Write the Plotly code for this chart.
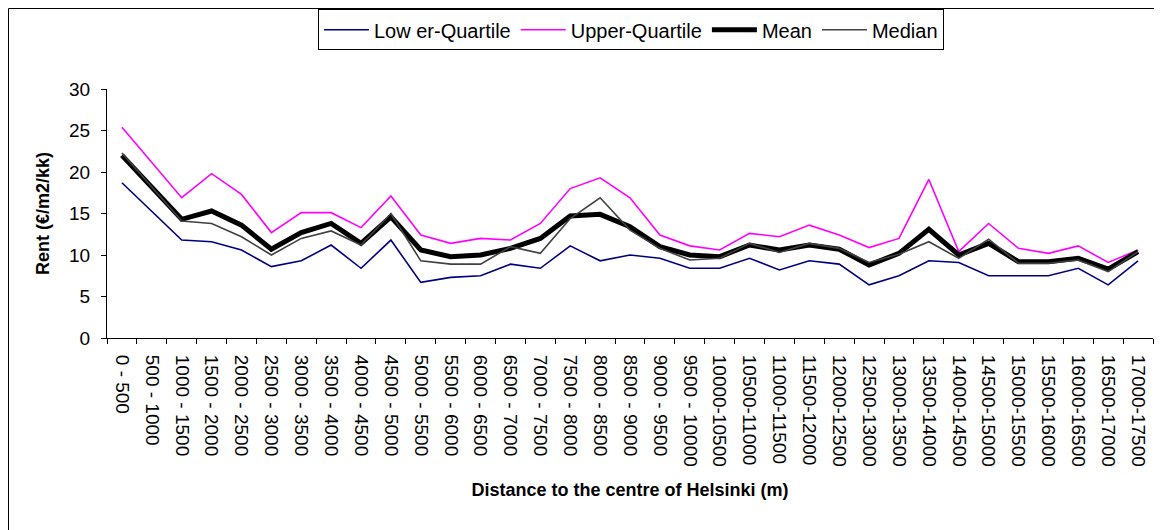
import plotly.graph_objects as go

# distance bands (m)
bands = ['0 - 500', '500 - 1000', '1000 - 1500', '1500 - 2000', '2000 - 2500',
         '2500 - 3000', '3000 - 3500', '3500 - 4000', '4000 - 4500', '4500 - 5000',
         '5000 - 5500', '5500 - 6000', '6000 - 6500', '6500 - 7000', '7000 - 7500',
         '7500 - 8000', '8000 - 8500', '8500 - 9000', '9000 - 9500', '9500 - 10000',
         '10000-10500', '10500-11000', '11000-11500', '11500-12000', '12000-12500',
         '12500-13000', '13000-13500', '13500-14000', '14000-14500', '14500-15000',
         '15000-15500', '15500-16000', '16000-16500', '16500-17000', '17000-17500']

lower_q = [18.7, 15.2, 11.8, 11.6, 10.6, 8.6, 9.3, 11.2, 8.4, 11.8,
           6.7, 7.3, 7.5, 8.9, 8.4, 11.1, 9.3, 10.0, 9.6, 8.4,
           8.4, 9.6, 8.2, 9.3, 8.9, 6.4, 7.5, 9.3, 9.1, 7.5,
           7.5, 7.5, 8.4, 6.4, 9.3]
upper_q = [25.4, 21.2, 16.9, 19.8, 17.3, 12.7, 15.1, 15.1, 13.3, 17.1,
           12.4, 11.4, 12.0, 11.8, 13.8, 18.0, 19.3, 16.9, 12.4, 11.1,
           10.6, 12.6, 12.2, 13.6, 12.4, 10.9, 12.0, 19.1, 10.4, 13.8,
           10.8, 10.2, 11.1, 9.1, 10.6]
mean = [22.0, 18.2, 14.3, 15.3, 13.6, 10.7, 12.7, 13.8, 11.4, 14.6,
        10.6, 9.8, 10.0, 10.8, 12.0, 14.7, 14.9, 13.4, 11.0, 10.0,
        9.8, 11.2, 10.6, 11.2, 10.7, 8.8, 10.2, 13.1, 10.0, 11.4,
        9.2, 9.2, 9.6, 8.3, 10.4]
median = [22.3, 18.2, 14.1, 13.8, 12.2, 10.0, 12.0, 12.9, 11.2, 15.0,
          9.3, 8.9, 8.9, 11.0, 10.2, 14.4, 16.9, 13.0, 10.8, 9.4,
          9.6, 11.4, 10.3, 11.4, 10.8, 9.1, 10.1, 11.6, 9.6, 11.9,
          9.0, 9.0, 9.4, 8.0, 10.4]

FONT = 'Arial, Liberation Sans, sans-serif'

# plot area in figure pixels
L, T, R, B = 99, 81, 17, 200
W, H = 1162, 530
PW, PH = W - L - R, H - T - B


def py(ypix):
    # figure pixel (from top) -> paper y
    return (T + PH - ypix) / PH


fig = go.Figure()
fig.add_trace(go.Scatter(x=bands, y=lower_q, mode='lines', name='Low er-Quartile',
                         line=dict(color='#000080', width=1.6)))
fig.add_trace(go.Scatter(x=bands, y=upper_q, mode='lines', name='Upper-Quartile',
                         line=dict(color='#FF00FF', width=1.6)))
fig.add_trace(go.Scatter(x=bands, y=mean, mode='lines', name='Mean',
                         line=dict(color='#000000', width=5)))
fig.add_trace(go.Scatter(x=bands, y=median, mode='lines', name='Median',
                         line=dict(color='#404040', width=1.6)))

fig.update_layout(
    width=W, height=H,
    margin=dict(l=L, r=R, t=T, b=B),
    paper_bgcolor='white', plot_bgcolor='white',
    font=dict(family=FONT, color='black', size=18),
    showlegend=True,
    legend=dict(orientation='h', xref='container', yref='container',
                x=623 / W, xanchor='center', y=1 - 1.3 / H, yanchor='top',
                bordercolor='black', borderwidth=1, font=dict(size=20),
                tracegroupgap=0, itemwidth=45),
    xaxis=dict(type='category', range=[-0.5, 34.5], tickangle=90,
               ticks='outside', ticklen=5, tickson='boundaries', tickcolor='black',
               showline=True, linecolor='black', linewidth=1, showgrid=False,
               tickfont=dict(size=19), ticklabelstandoff=12,
               title=dict(text='<b>Distance to the centre of Helsinki (m)</b>',
                          font=dict(size=18), standoff=17)),
    yaxis=dict(range=[0, 30], dtick=5, ticks='outside', ticklen=5, tickcolor='black',
               showline=True, linecolor='black', linewidth=1, showgrid=False,
               zeroline=False, tickfont=dict(size=19), ticklabelstandoff=7,
               title=dict(text='<b>Rent (€/m2/kk)</b>', font=dict(size=18), standoff=14)),
    shapes=[dict(type='rect', xref='paper', yref='paper',
                 x0=(0.5 - L) / PW, x1=(W + 20 - L) / PW,
                 y0=py(H + 20), y1=py(0.5),
                 line=dict(color='black', width=1), fillcolor='rgba(0,0,0,0)')],
)

fig.write_html("out.html")
